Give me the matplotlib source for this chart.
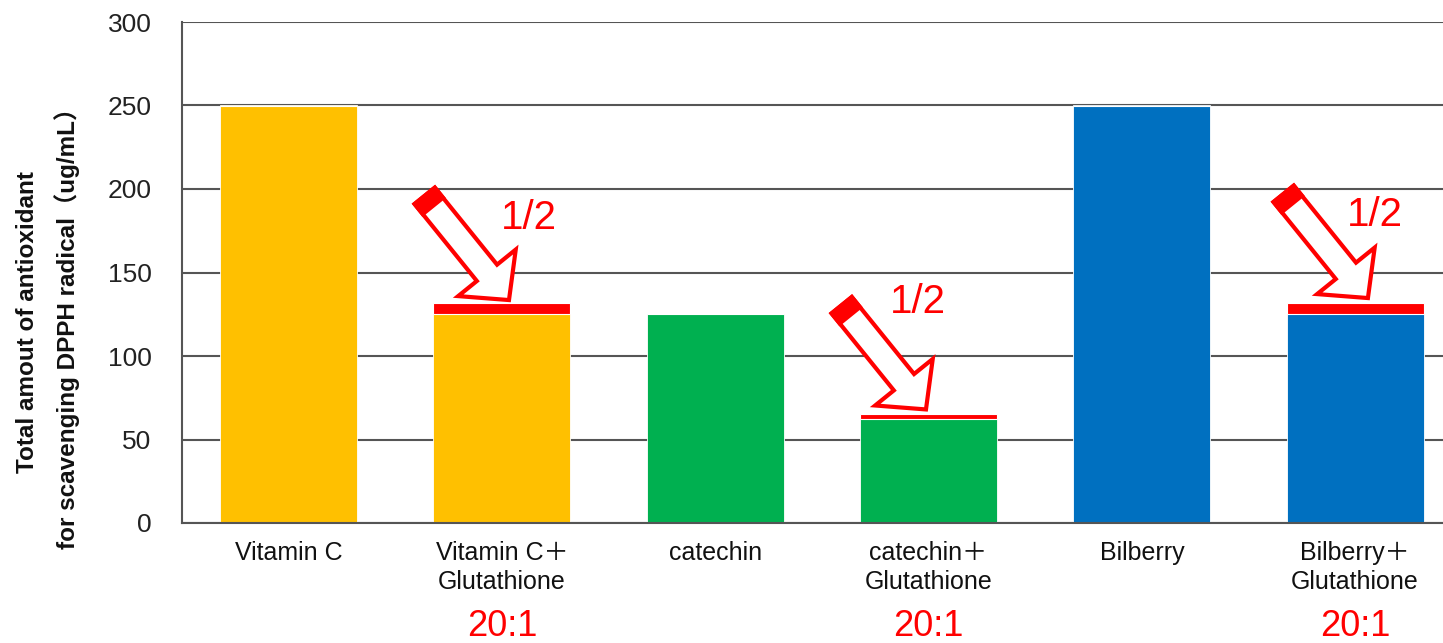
import numpy as np
import matplotlib.pyplot as plt
from matplotlib.patches import Polygon
from matplotlib.transforms import ScaledTranslation

plt.rcParams['font.family'] = ['Liberation Sans', 'Noto Sans CJK JP', 'DejaVu Sans']

# data
categories = ['Vitamin C', 'Vitamin C\uff0b\nGlutathione', 'catechin',
              'catechin\uff0b\nGlutathione', 'Bilberry', 'Bilberry\uff0b\nGlutathione']
base_vals = [250, 125, 125, 62.5, 250, 125]
cap_vals = [0, 6.5, 0, 2.5, 0, 6.5]
bar_colors = ['#FFC000', '#FFC000', '#00B050', '#00B050', '#0070C0', '#0070C0']
ratio_labels = ['', '20:1', '', '20:1', '', '20:1']
# arrow tips (x, y in data units) and the "1/2" label positions
arrow_tips = [(1.033, 133.5), (2.988, 68.0), (5.06, 134.7)]
half_pos = [(1.127, 182.6), (2.95, 132.3), (5.093, 184.4)]
ylabel_lines = ['Total amout of antioxidant', 'for scavenging DPPH radical\uff08ug/mL\uff09']

RED = '#FF0000'

fig = plt.figure(figsize=(14.43, 6.43), dpi=100)
ax = fig.add_axes([182/1443, 1 - 523/643, 1 - 182/1443, (523 - 22)/643])

x = np.arange(len(categories))
ax.bar(x, base_vals, width=0.642, color=bar_colors, edgecolor='white', linewidth=0.6, zorder=2)
ax.bar(x, cap_vals, width=0.642, bottom=base_vals, color=RED, edgecolor='white', linewidth=0.8, zorder=2)

ax.set_xlim(-0.5, 5.412)
ax.set_ylim(0, 300)
ax.set_yticks(np.arange(0, 301, 50))
ax.yaxis.grid(True, color='#555555', linewidth=1.5, zorder=0)
ax.set_axisbelow(True)
ax.set_xticks([])
ax.tick_params(axis='y', length=0, pad=22, labelsize=19, labelcolor='#222222')
for s in ['top', 'right']:
    ax.spines[s].set_visible(False)
for s in ['left', 'bottom']:
    ax.spines[s].set_color('#555555')
    ax.spines[s].set_linewidth(1.5)

xt = ax.get_xaxis_transform()
for xi, lab, r in zip(x, categories, ratio_labels):
    ax.text(xi, -0.036, lab, transform=xt, ha='center', va='top', fontsize=18,
            linespacing=1.25, color='#111111')
    if r:
        ax.text(xi, -0.207, r, transform=xt, ha='center', va='center', fontsize=26,
                color=RED)


def draw_arrow(tip):
    # hollow block arrow, geometry in pixels relative to tip
    u = np.array([0.629, -0.778])
    p = np.array([-u[1], u[0]])
    L, hl, hw, sw, cap = 134, 35, 37, 13, 13
    pts = [(0, 0), (hl, hw), (hl, sw), (L, sw), (L, -sw), (hl, -sw), (hl, -hw)]
    verts = [(-s * u + w * p) / 100 for s, w in pts]
    trans = fig.dpi_scale_trans + ScaledTranslation(tip[0], tip[1], ax.transData)
    ax.add_patch(Polygon(verts, closed=True, facecolor='white', edgecolor=RED,
                         linewidth=3, transform=trans, zorder=4, joinstyle='miter'))
    tail = [(L - cap, sw), (L, sw), (L, -sw), (L - cap, -sw)]
    tverts = [(-s * u + w * p) / 100 for s, w in tail]
    ax.add_patch(Polygon(tverts, closed=True, facecolor=RED, edgecolor=RED,
                         linewidth=3, transform=trans, zorder=5))


for tip, hp in zip(arrow_tips, half_pos):
    draw_arrow(tip)
    ax.text(hp[0], hp[1], '1/2', ha='center', va='center', fontsize=29, color=RED, zorder=6)

for xpix, line in zip([28, 67], ylabel_lines):
    fig.text(xpix/1443, 1 - 322/643, line, rotation=90, ha='center', va='center',
             fontsize=17.5, fontweight='bold', color='#111111')

fig.savefig('out.png', dpi=100)
